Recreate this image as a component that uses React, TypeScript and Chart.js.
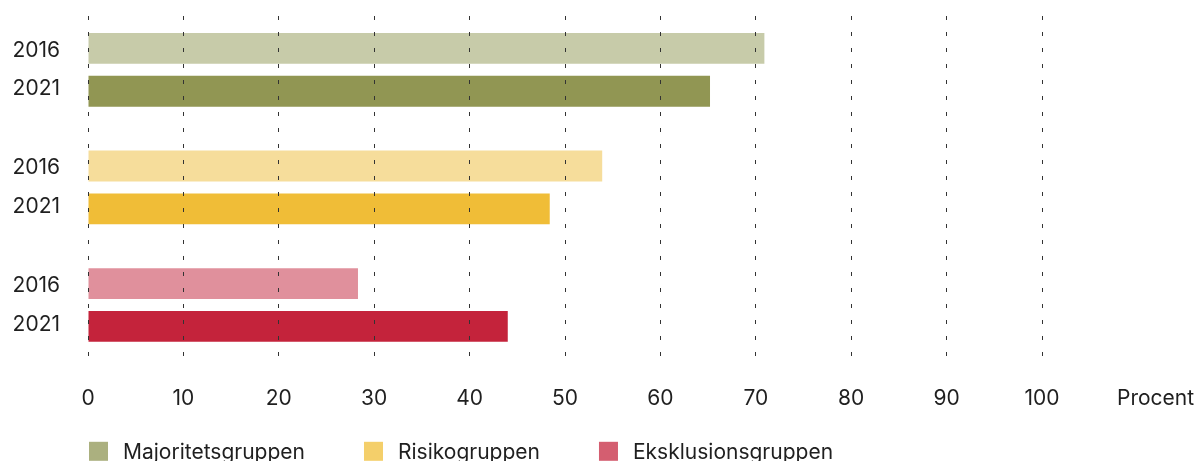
import { useEffect, useRef } from "react";
import { Chart, registerables } from "chart.js";

Chart.register(...registerables);

// ---- Data ----
const groups = ["Majoritetsgruppen", "Risikogruppen", "Eksklusionsgruppen"];
const years = ["2016", "2021"];
const values2016 = [70.9, 53.9, 28.3];
const values2021 = [65.2, 48.4, 44.0];
const xTickValues = [0, 10, 20, 30, 40, 50, 60, 70, 80, 90, 100];
const unitLabel = "Procent";

// ---- Styles ----
const colors2016 = ["#c7cba9", "#f6dd9b", "#e0909c"];
const colors2021 = ["#919653", "#f0bd37", "#c4233b"];
const legendColors = ["#abb07f", "#f4cf6a", "#d45e70"];
const textColor = "#1f1f1f";
const gridColor = "#333333";
const fontFamily = "Inter, 'Noto Sans', sans-serif";
const fontSize = 21;
const xTickPadding = 22;

const extrasPlugin = {
  id: "extras",
  afterDraw(chart: any) {
    const ctx = chart.ctx;
    const area = chart.chartArea;
    ctx.save();
    ctx.font = `${fontSize}px ${fontFamily}`;
    ctx.fillStyle = textColor;
    // unit label at right of x axis
    ctx.textAlign = "left";
    ctx.textBaseline = "middle";
    ctx.fillText(unitLabel, area.right + 75, area.bottom + xTickPadding + (fontSize * 1.2) / 2);
    // legend
    let x = area.left + 1;
    const top = area.bottom + 78;
    groups.forEach((g, i) => {
      ctx.fillStyle = legendColors[i];
      ctx.fillRect(x, top, 19, 19);
      ctx.fillStyle = textColor;
      ctx.textBaseline = "alphabetic";
      ctx.fillText(g, x + 34, top + 17.5);
      x += 34 + ctx.measureText(g).width + 59;
    });
    ctx.restore();
  },
};

export default function App() {
  const canvasRef = useRef<HTMLCanvasElement | null>(null);

  useEffect(() => {
    document.body.style.margin = "0";
    const canvas = canvasRef.current;
    if (!canvas) return;
    const chart = new Chart(canvas, {
      type: "bar",
      data: {
        labels: groups.map(() => years.slice()),
        datasets: [
          {
            label: years[0],
            data: values2016,
            backgroundColor: colors2016,
            categoryPercentage: 0.729,
            barPercentage: 0.72,
          },
          {
            label: years[1],
            data: values2021,
            backgroundColor: colors2021,
            categoryPercentage: 0.729,
            barPercentage: 0.72,
          },
        ],
      },
      options: {
        indexAxis: "y",
        animation: false,
        responsive: true,
        maintainAspectRatio: false,
        layout: { padding: { top: 11, right: 158, bottom: 28, left: 0 } },
        plugins: {
          legend: { display: false },
          tooltip: { enabled: false },
        },
        scales: {
          x: {
            type: "linear",
            min: 0,
            max: 100,
            afterBuildTicks: (scale: any) => {
              scale.ticks = xTickValues.map((v) => ({ value: v }));
            },
            grid: {
              color: gridColor,
              lineWidth: 1,
              drawTicks: false,
              z: 1,
            },
            border: { display: false, dash: [4, 12], dashOffset: 11 },
            ticks: {
              color: textColor,
              font: { family: fontFamily, size: fontSize },
              padding: xTickPadding,
              maxRotation: 0,
            },
          } as any,
          y: {
            type: "category",
            grid: { display: false, drawTicks: false },
            border: { display: false },
            afterFit: (scale: any) => {
              scale.width = 88;
              scale.paddingTop = 0;
              scale.paddingBottom = 0;
            },
            ticks: {
              color: textColor,
              font: { family: fontFamily, size: fontSize, lineHeight: "38.5px" },
              padding: 28,
            },
          } as any,
        },
      },
      plugins: [extrasPlugin],
    } as any);
    return () => chart.destroy();
  }, []);

  return (
    <div style={{ position: "relative", width: "1200px", height: "461px" }}>
      <canvas ref={canvasRef} />
    </div>
  );
}
